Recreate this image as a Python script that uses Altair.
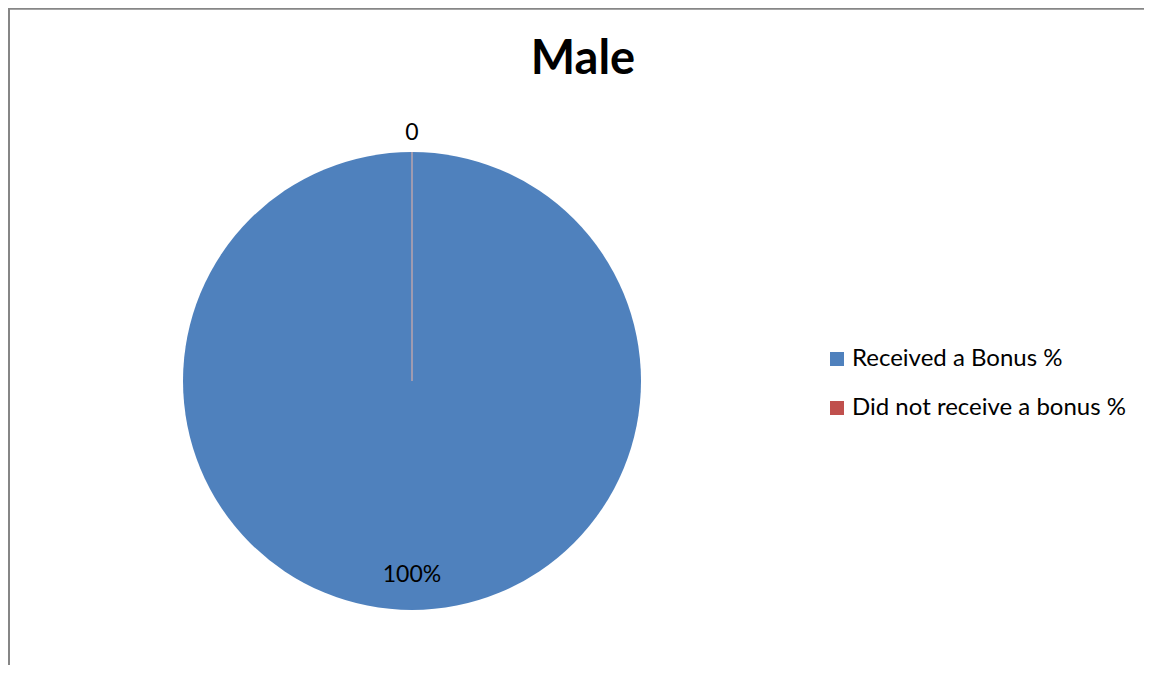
import altair as alt
import pandas as pd

categories = ["Received a Bonus %", "Did not receive a bonus %"]
values = [100, 0]
labels = ["100%", "0"]
colors = ["#4F81BD", "#C0504D"]
order = [0, 1]

df = pd.DataFrame({"category": categories, "value": values, "label": labels, "ord": order})

FONT = "Lato"
CX, CY, R = 406, 377, 229

color = alt.Color(
    "category:N",
    scale=alt.Scale(domain=categories, range=colors),
    sort=categories,
    legend=alt.Legend(
        title=None,
        orient="none",
        legendX=819,
        legendY=343,
        symbolType="square",
        symbolSize=196,
        symbolStrokeWidth=0,
        labelFont=FONT,
        labelFontSize=24,
        labelColor="#000000",
        labelOffset=3,
        labelLimit=600,
        rowPadding=25,
        padding=0,
    ),
)

theta = alt.Theta("value:Q", stack=True)

base = alt.Chart(df)

pie = base.mark_arc(radius=R, strokeWidth=1).encode(
    theta=theta,
    color=color,
    order=alt.Order("ord:Q"),
    stroke=alt.condition(alt.datum.value == 0, alt.value("#B9A3AC"), alt.value("transparent")),
    x=alt.value(CX),
    y=alt.value(CY),
)

label_big = base.mark_text(font=FONT, fontSize=23, color="#000000", radius=194).encode(
    theta=theta,
    order=alt.Order("ord:Q"),
    text="label:N",
    x=alt.value(CX),
    y=alt.value(CY),
).transform_filter(alt.datum.value > 0)

label_zero = base.mark_text(font=FONT, fontSize=23, color="#000000", radius=248).encode(
    theta=theta,
    order=alt.Order("ord:Q"),
    text="label:N",
    x=alt.value(CX),
    y=alt.value(CY),
).transform_filter(alt.datum.value == 0)

border_top = alt.Chart(df).mark_rule(color="#868686", strokeWidth=1.5).encode(
    x=alt.value(2), x2=alt.value(1160), y=alt.value(4.75)
)
border_left = alt.Chart(df).mark_rule(color="#868686", strokeWidth=2).encode(
    x=alt.value(3), y=alt.value(4), y2=alt.value(700)
)

chart = alt.layer(pie, label_big, label_zero, border_top, border_left).properties(
    width=1138,
    height=661,
    padding={"left": -2, "top": -4, "right": 0, "bottom": 0},
    autosize=alt.AutoSizeParams(type="none"),
    title=alt.TitleParams(
        "Male",
        font=FONT,
        fontSize=47,
        fontWeight="bold",
        color="#000000",
        anchor="middle",
        offset=-80,
        dx=8,
    ),
).configure_view(stroke=None).configure(background="white")

chart.save("out.html", embed_options={"renderer": "svg", "actions": False})
